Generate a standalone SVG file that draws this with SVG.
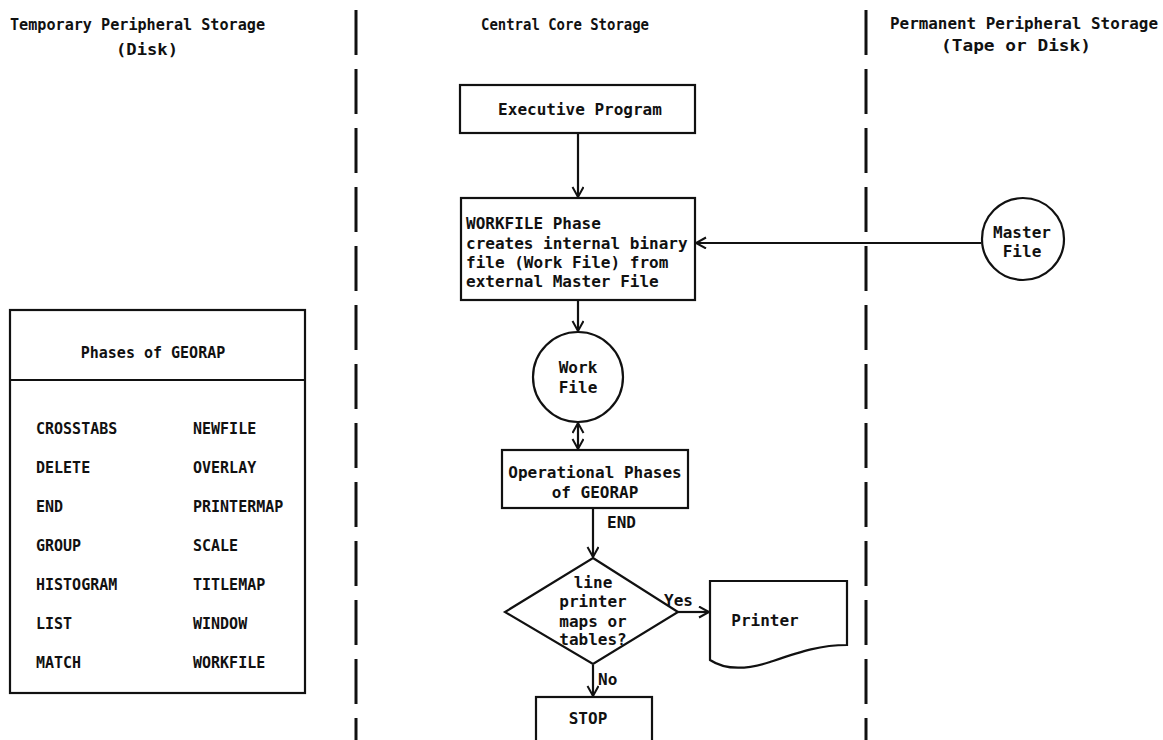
<svg xmlns="http://www.w3.org/2000/svg" width="1163" height="740" viewBox="0 0 1163 740">
<style>
text{font-family:"DejaVu Sans Mono","Liberation Mono",monospace;font-weight:bold;fill:#111;}
.t16{font-size:16px;}
.t15{font-size:15px;}
.shape{fill:none;stroke:#111;stroke-width:2.2;}
.conn{fill:none;stroke:#111;stroke-width:2.2;}
.lane{fill:none;stroke:#111;stroke-width:3;stroke-dasharray:45 14;}
.mid{text-anchor:middle;}
</style>
<defs>
<marker id="arr" markerUnits="userSpaceOnUse" markerWidth="14" markerHeight="14" refX="11" refY="6" orient="auto-start-reverse">
<path d="M1,0.5 L11,6 L1,11.5" fill="none" stroke="#111" stroke-width="2"/>
</marker>
</defs>
<rect width="1163" height="740" fill="#fff"/>

<g id="lanes">
<line class="lane" x1="356" y1="10" x2="356" y2="740"/>
<line class="lane" x1="866" y1="10" x2="866" y2="740"/>
<text class="t15" x="10" y="30" textLength="255" lengthAdjust="spacingAndGlyphs">Temporary Peripheral Storage</text>
<text class="t15" x="116" y="55" textLength="62" lengthAdjust="spacingAndGlyphs">(Disk)</text>
<text class="t15" x="481" y="30" textLength="168" lengthAdjust="spacingAndGlyphs">Central Core Storage</text>
<text class="t15" x="890" y="29" textLength="268" lengthAdjust="spacingAndGlyphs">Permanent Peripheral Storage</text>
<text class="t15" x="941" y="51" textLength="150" lengthAdjust="spacingAndGlyphs">(Tape or Disk)</text>
</g>

<g id="connectors">
<line class="conn" x1="578" y1="133" x2="578" y2="197" marker-end="url(#arr)"/>
<line class="conn" x1="981" y1="243" x2="696" y2="243" marker-end="url(#arr)"/>
<line class="conn" x1="578" y1="300" x2="578" y2="331" marker-end="url(#arr)"/>
<line class="conn" x1="578" y1="423" x2="578" y2="449" marker-start="url(#arr)" marker-end="url(#arr)"/>
<line class="conn" x1="593" y1="508" x2="593" y2="557" marker-end="url(#arr)"/>
<text class="t16" x="607" y="528">END</text>
<line class="conn" x1="678" y1="612" x2="709" y2="612" marker-end="url(#arr)"/>
<text class="t16" x="664" y="606">Yes</text>
<line class="conn" x1="593" y1="665" x2="593" y2="696" marker-end="url(#arr)"/>
<text class="t16" x="598" y="685">No</text>
</g>

<g id="phases">
<rect class="shape" x="10" y="310" width="295" height="383"/>
<line class="shape" x1="10" y1="380" x2="305" y2="380"/>
<text class="t15 mid" x="153" y="358">Phases of GEORAP</text>
<g class="t15">
<text x="36" y="434">CROSSTABS</text>
<text x="36" y="473">DELETE</text>
<text x="36" y="512">END</text>
<text x="36" y="551">GROUP</text>
<text x="36" y="590">HISTOGRAM</text>
<text x="36" y="629">LIST</text>
<text x="36" y="668">MATCH</text>
<text x="193" y="434">NEWFILE</text>
<text x="193" y="473">OVERLAY</text>
<text x="193" y="512">PRINTERMAP</text>
<text x="193" y="551">SCALE</text>
<text x="193" y="590">TITLEMAP</text>
<text x="193" y="629">WINDOW</text>
<text x="193" y="668">WORKFILE</text>
</g>
</g>

<g id="executive">
<rect class="shape" x="460" y="85" width="235" height="48"/>
<text class="t16 mid" x="580" y="115">Executive Program</text>
</g>

<g id="workfile-phase">
<rect class="shape" x="461" y="198" width="234" height="102"/>
<text class="t16" x="466" y="229">WORKFILE Phase</text>
<text class="t16" x="466" y="249">creates internal binary</text>
<text class="t16" x="466" y="268">file (Work File) from</text>
<text class="t16" x="466" y="287">external Master File</text>
</g>

<g id="master-file">
<circle class="shape" cx="1023" cy="239" r="41"/>
<text class="t16 mid" x="1022" y="238">Master</text>
<text class="t16 mid" x="1022" y="257">File</text>
</g>

<g id="work-file">
<circle class="shape" cx="578" cy="377" r="45"/>
<text class="t16 mid" x="578" y="373">Work</text>
<text class="t16 mid" x="578" y="393">File</text>
</g>

<g id="operational">
<rect class="shape" x="502" y="450" width="186" height="58"/>
<text class="t16 mid" x="595" y="478">Operational Phases</text>
<text class="t16 mid" x="595" y="498">of GEORAP</text>
</g>

<g id="decision">
<polygon class="shape" points="593,558 678,612 593,664 505,612"/>
<text class="t16 mid" x="593" y="588">line</text>
<text class="t16 mid" x="593" y="607">printer</text>
<text class="t16 mid" x="593" y="627">maps or</text>
<text class="t16 mid" x="593" y="645">tables?</text>
</g>

<g id="printer">
<path class="shape" d="M710,581 H847 V645 C820,645 800,652 770,662 C745,670 725,670 710,660 Z"/>
<text class="t16 mid" x="765" y="626">Printer</text>
</g>

<g id="stop">
<rect class="shape" x="536" y="697" width="116" height="60"/>
<text class="t16 mid" x="588" y="724">STOP</text>
</g>
</svg>
